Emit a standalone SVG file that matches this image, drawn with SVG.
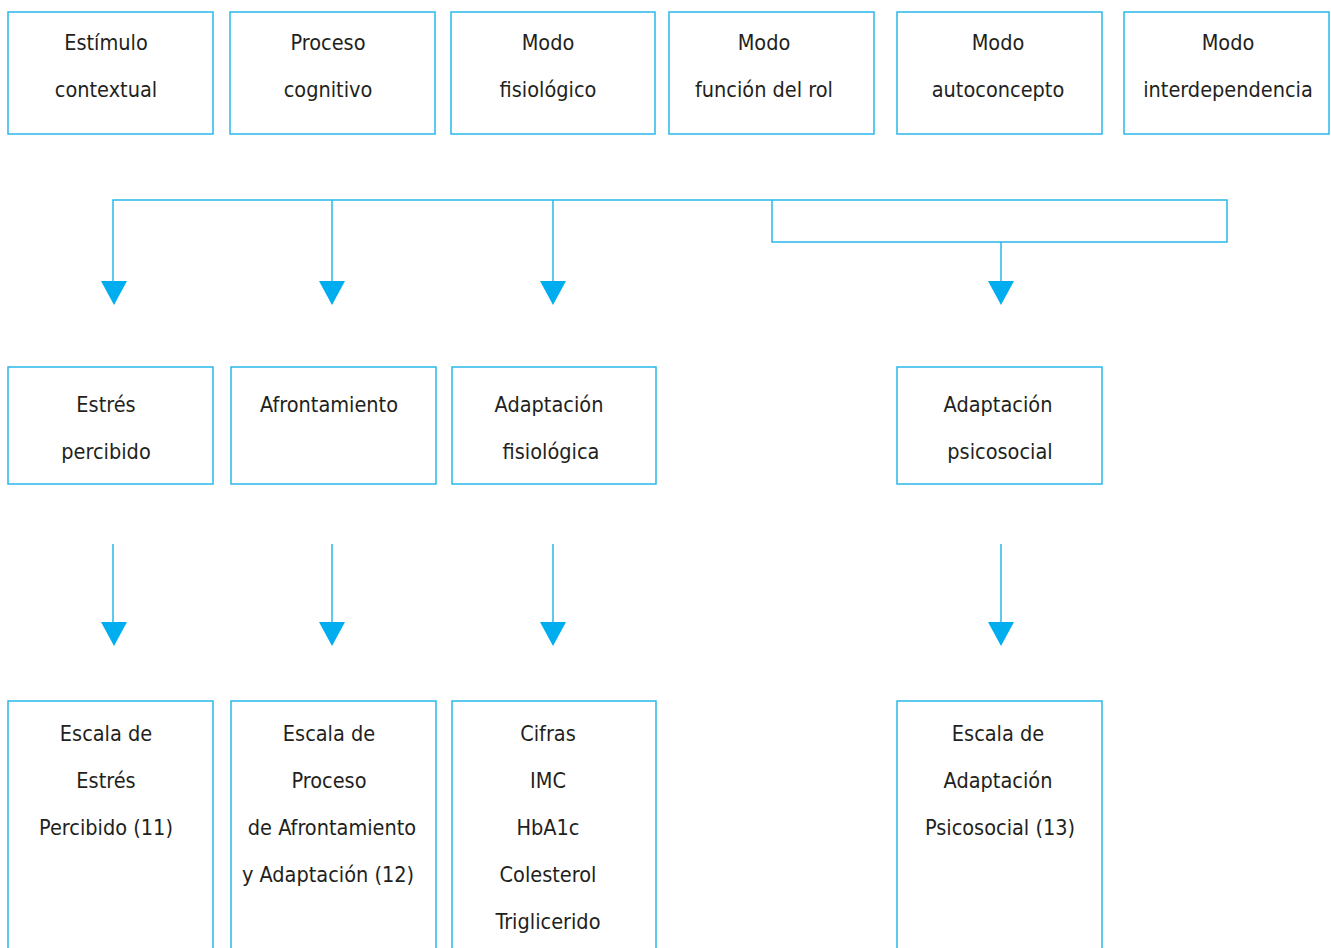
<svg xmlns="http://www.w3.org/2000/svg" width="1331" height="948" viewBox="0 0 1331 948">
<style>
.box{fill:#fff;stroke:#29b8ea;stroke-width:1.5}
.t{font-family:"DejaVu Sans Condensed","Liberation Sans Narrow",sans-serif;font-stretch:condensed;font-size:21.5px;fill:#231f20;text-anchor:middle}
.c{fill:none;stroke:#29b8ea;stroke-width:1.5}
.ah{fill:#00aeef}
</style>
<rect width="1331" height="948" fill="#fff"/>
<g id="n-estimulo"><rect class="box" x="8" y="12" width="205" height="122"/><text class="t" x="106" y="50">Estímulo</text><text class="t" x="106" y="97">contextual</text></g>
<g id="n-proceso"><rect class="box" x="230" y="12" width="205" height="122"/><text class="t" x="328" y="50">Proceso</text><text class="t" x="328" y="97">cognitivo</text></g>
<g id="n-fisiologico"><rect class="box" x="451" y="12" width="204" height="122"/><text class="t" x="548" y="50">Modo</text><text class="t" x="548" y="97">fisiológico</text></g>
<g id="n-funcion"><rect class="box" x="669" y="12" width="205" height="122"/><text class="t" x="764" y="50">Modo</text><text class="t" x="764" y="97">función del rol</text></g>
<g id="n-autoconcepto"><rect class="box" x="897" y="12" width="205" height="122"/><text class="t" x="998" y="50">Modo</text><text class="t" x="998" y="97">autoconcepto</text></g>
<g id="n-interdependencia"><rect class="box" x="1124" y="12" width="205" height="122"/><text class="t" x="1228" y="50">Modo</text><text class="t" x="1228" y="97">interdependencia</text></g>

<g id="n-estres"><rect class="box" x="8" y="367" width="205" height="117"/><text class="t" x="106" y="412">Estrés</text><text class="t" x="106" y="459">percibido</text></g>
<g id="n-afrontamiento"><rect class="box" x="231" y="367" width="205" height="117"/><text class="t" x="329" y="412">Afrontamiento</text></g>
<g id="n-adapfis"><rect class="box" x="452" y="367" width="204" height="117"/><text class="t" x="549" y="412">Adaptación</text><text class="t" x="551" y="459">fisiológica</text></g>
<g id="n-adappsi"><rect class="box" x="897" y="367" width="205" height="117"/><text class="t" x="998" y="412">Adaptación</text><text class="t" x="1000" y="459">psicosocial</text></g>

<g id="n-escala-estres"><rect class="box" x="8" y="701" width="205" height="260"/><text class="t" x="106" y="741">Escala de</text><text class="t" x="106" y="788">Estrés</text><text class="t" x="106" y="835">Percibido (11)</text></g>
<g id="n-escala-afront"><rect class="box" x="231" y="701" width="205" height="260"/><text class="t" x="329" y="741">Escala de</text><text class="t" x="329" y="788">Proceso</text><text class="t" x="332" y="835">de Afrontamiento</text><text class="t" x="328" y="882">y Adaptación (12)</text></g>
<g id="n-cifras"><rect class="box" x="452" y="701" width="204" height="260"/><text class="t" x="548" y="741">Cifras</text><text class="t" x="548" y="788">IMC</text><text class="t" x="548" y="835">HbA1c</text><text class="t" x="548" y="882">Colesterol</text><text class="t" x="548" y="929">Triglicerido</text></g>
<g id="n-escala-psi"><rect class="box" x="897" y="701" width="205" height="260"/><text class="t" x="998" y="741">Escala de</text><text class="t" x="998" y="788">Adaptación</text><text class="t" x="1000" y="835">Psicosocial (13)</text></g>

<g id="connectors">
<path class="c" d="M113,284V200H1227V242H772V200M332,200V284M553,200V284M1001,242V284"/>
<path class="c" d="M113,544V624M332,544V624M553,544V624M1001,544V624"/>
<polygon class="ah" points="101,281 127,281 114,305"/>
<polygon class="ah" points="319,281 345,281 332,305"/>
<polygon class="ah" points="540,281 566,281 553,305"/>
<polygon class="ah" points="988,281 1014,281 1001,305"/>
<polygon class="ah" points="101,622 127,622 114,646"/>
<polygon class="ah" points="319,622 345,622 332,646"/>
<polygon class="ah" points="540,622 566,622 553,646"/>
<polygon class="ah" points="988,622 1014,622 1001,646"/>
</g>
</svg>
